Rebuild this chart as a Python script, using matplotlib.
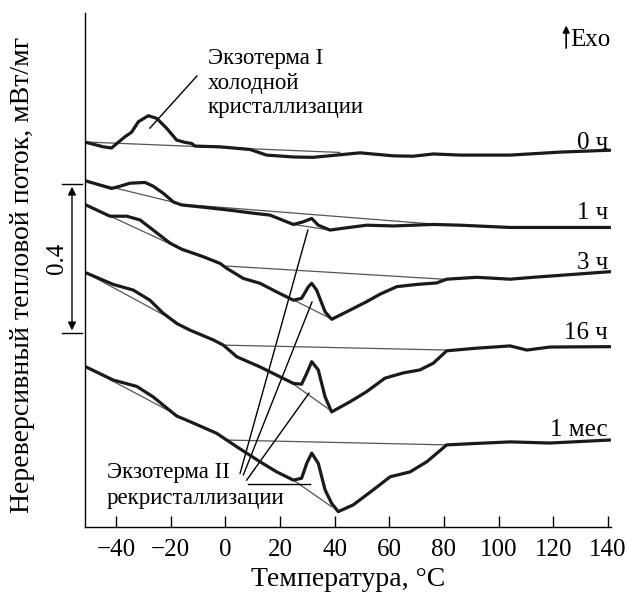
import numpy as np
import matplotlib
matplotlib.use("Agg")
import matplotlib.pyplot as plt

plt.rcParams["font.family"] = ["Liberation Serif", "DejaVu Serif"]
plt.rcParams["axes.unicode_minus"] = True

# ── Data (T in °C, flow in mW/mg with stacking offsets) ──
t_0h = [-51.0, -44.6, -41.6, -39.7, -36.7, -34.3, -31.8, -28.2, -25.1, -21.4, -17.8, -14.8,
        -12.3, -11.1, -1.9, 9.0, 15.1, 24.9, 32.1, 40.7, 49.3, 61.5, 68.7, 76.1, 85.9,
        104.2, 122.5, 140.8]
q_0h = [1.026, 1.014, 1.011, 1.023, 1.041, 1.053, 1.081, 1.097, 1.090, 1.063, 1.032, 1.026,
        1.023, 1.016, 1.014, 1.007, 0.992, 0.987, 0.986, 0.992, 0.998, 0.990, 0.989, 0.995,
        0.992, 0.992, 1.000, 1.005]

t_1h = [-51.0, -41.6, -38.5, -34.9, -29.4, -26.4, -22.7, -19.0, -16.0, -8.1, 1.7, 10.2,
        16.3, 24.9, 28.5, 31.6, 34.0, 38.3, 43.2, 51.7, 61.5, 76.1, 85.9, 104.2, 140.8]
q_1h = [0.923, 0.903, 0.909, 0.917, 0.919, 0.909, 0.890, 0.867, 0.859, 0.853, 0.845, 0.837,
        0.832, 0.807, 0.814, 0.823, 0.805, 0.792, 0.797, 0.805, 0.803, 0.807, 0.805, 0.799,
        0.799]

t_3h = [-51.0, -42.2, -36.1, -31.2, -26.4, -20.2, -16.0, -8.1, -1.9, 0.5, 6.6, 12.7, 18.8,
        24.9, 27.9, 30.4, 31.6, 33.4, 36.5, 38.9, 44.4, 51.7, 56.6, 62.7, 70.0, 77.3, 81.0,
        92.0, 104.2, 112.6, 140.8]
q_3h = [0.859, 0.829, 0.829, 0.819, 0.792, 0.757, 0.741, 0.721, 0.703, 0.690, 0.663, 0.650,
        0.627, 0.605, 0.610, 0.641, 0.650, 0.632, 0.574, 0.554, 0.574, 0.601, 0.621, 0.641,
        0.647, 0.651, 0.661, 0.666, 0.661, 0.666, 0.681]

t_16h = [-51.0, -41.0, -33.7, -27.6, -22.7, -17.8, -12.9, -4.4, -0.7, 4.2, 12.7, 18.8, 24.9,
         27.9, 29.8, 31.6, 34.0, 36.5, 38.9, 45.6, 51.7, 58.4, 65.1, 71.2, 76.1, 81.0, 92.0,
         104.2, 110.3, 118.8, 140.8]
q_16h = [0.678, 0.647, 0.632, 0.605, 0.570, 0.543, 0.525, 0.499, 0.485, 0.454, 0.427, 0.405,
         0.383, 0.381, 0.410, 0.441, 0.419, 0.347, 0.307, 0.334, 0.361, 0.397, 0.411, 0.419,
         0.437, 0.470, 0.477, 0.483, 0.472, 0.480, 0.481]

t_1m = [-51.0, -41.0, -32.4, -26.4, -17.8, -12.9, -3.2, 4.2, 12.7, 18.8, 24.9, 27.9, 29.8,
        31.6, 34.0, 36.5, 38.9, 41.3, 46.8, 54.1, 60.3, 67.6, 73.7, 81.0, 92.0, 104.2, 118.8,
        140.8]
q_1m = [0.427, 0.392, 0.375, 0.347, 0.296, 0.281, 0.250, 0.214, 0.174, 0.147, 0.125, 0.130,
        0.170, 0.197, 0.170, 0.099, 0.063, 0.041, 0.059, 0.099, 0.134, 0.147, 0.174, 0.219,
        0.223, 0.227, 0.224, 0.232]

curves = [(t_0h, q_0h), (t_1h, q_1h), (t_3h, q_3h), (t_16h, q_16h), (t_1m, q_1m)]
curve_labels = ["0 ч", "1 ч", "3 ч", "16 ч", "1 мес"]
label_y = [1.024, 0.837, 0.704, 0.517, 0.259]

# thin baselines (pairs of points / polylines)
baselines = [
    ([-51.0, 42.0], [1.027, 0.999]),
    ([-51.0, -16.0, 76.1], [0.923, 0.861, 0.808]),
    ([24.9, 38.3], [0.807, 0.792]),
    ([-51.0, -16.6], [0.859, 0.743]),
    ([0.5, 79.7], [0.696, 0.661]),
    ([23.7, 38.3], [0.610, 0.557]),
    ([-51.0, -17.8], [0.678, 0.547]),
    ([-0.1, 81.0], [0.485, 0.472]),
    ([24.9, 38.3], [0.381, 0.312]),
    ([-51.0, -17.8], [0.427, 0.299]),
    ([-0.1, 81.0], [0.232, 0.219]),
    ([24.9, 38.9], [0.125, 0.054]),
]

# leader lines for the annotations
leaders = [
    ([-27.6, -10.4], [1.064, 1.203]),
    ([5.4, 30.2], [0.143, 0.792]),
    ([6.6, 31.7], [0.139, 0.600]),
    ([7.8, 30.6], [0.125, 0.357]),
    ([8.4, 31.0], [0.114, 0.114]),
]

x_ticks = [-40, -20, 0, 20, 40, 60, 80, 100, 120, 140]

# ── Plot ─────────────────────────────────────────────────────────────────────
fig = plt.figure(figsize=(6.27, 5.94), dpi=100)
ax = fig.add_axes([85 / 627, 67 / 594, 526 / 627, 514 / 594])

for tx, qy in baselines:
    ax.plot(tx, qy, color="#555555", lw=0.9, solid_capstyle="round")
for tx, qy in leaders:
    ax.plot(tx, qy, color="black", lw=1.0)
for tx, qy in curves:
    ax.plot(tx, qy, color="#1a1a1a", lw=2.3, solid_joinstyle="round", solid_capstyle="round")

for lab, yy in zip(curve_labels, label_y):
    ax.text(140, yy, lab, ha="right", va="center", fontsize=18)

ax.text(-6.3, 1.184, "Экзотерма I\nхолодной\nкристаллизации", ha="left", va="center",
        fontsize=16.5, linespacing=1.2)
ax.text(-43.3, 0.111, "Экзотерма II\nрекристаллизации", ha="left", va="center",
        fontsize=16.5, linespacing=1.3)

# Exo marker
ax.annotate("", xy=(124.7, 1.345), xytext=(124.7, 1.27),
            arrowprops=dict(arrowstyle="-|>", color="black", lw=1.2, mutation_scale=10))
ax.text(126.3, 1.299, "Exo", ha="left", va="center", fontsize=18)

# 0.4 scale bar outside the axes
ax.annotate("", xy=(-56.1, 0.915), xytext=(-56.1, 0.517),
            arrowprops=dict(arrowstyle="<|-|>", color="black", lw=1.0, mutation_scale=12),
            annotation_clip=False)
for yy in (0.915, 0.517):
    ax.plot([-59.8, -52.4], [yy, yy], color="black", lw=1.0, clip_on=False)
ax.text(-61.5, 0.716, "0.4", rotation=90, ha="center", va="center", fontsize=18, clip_on=False)

ax.set_xlim(-51.34, 141.1)
ax.set_ylim(0, 1.371)
ax.set_xticks(x_ticks)
ax.set_yticks([])
ax.tick_params(axis="x", direction="in", length=8, width=1, labelsize=18, pad=9)
for side in ("top", "right"):
    ax.spines[side].set_visible(False)
for side in ("left", "bottom"):
    ax.spines[side].set_linewidth(1.0)

ax.set_xlabel("Температура, °C", fontsize=20, labelpad=4)
ax.set_ylabel("Нереверсивный тепловой поток, мВт/мг", fontsize=20)
ax.yaxis.set_label_coords(-0.095, 0.49)

fig.savefig("out.png", dpi=100)
